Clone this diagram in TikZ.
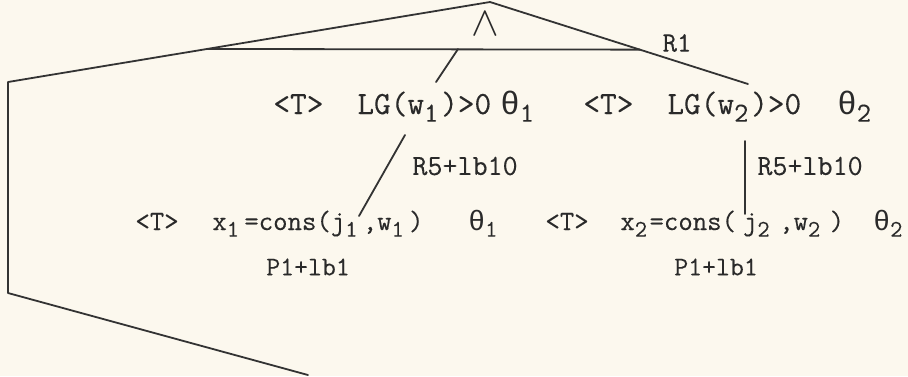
\documentclass[tikz,border=0pt]{standalone}
\usepackage{fontspec}
\usepackage{xcolor}
\usepackage{tikz}
\usetikzlibrary{positioning,calc}
\newfontfamily\grk{Liberation Mono}
\newfontfamily\tw{Latin Modern Mono}[FakeBold=0.25]
\definecolor{paper}{HTML}{FCF8EE}
\definecolor{ink}{HTML}{333333}
\definecolor{type}{HTML}{2A2A2A}
\tikzset{branch/.style={draw=ink,line width=0.9pt,line join=round,line cap=round},
  goal/.style={text=type,inner sep=0pt,anchor=base west,font=\tw\fontsize{#1}{#1}\selectfont},
  goal/.default=16.2,
  note/.style={text=type,inner sep=0pt,font=\tw\fontsize{#1}{#1}\selectfont},
  note/.default=14.6}
% lowered digit that takes one typewriter cell
\newcommand{\lo}[1]{\makebox[0.525em][l]{\raisebox{-0.55ex}{\scalebox{0.85}{#1}}}}
\newcommand{\thet}[1]{{\grk θ}\lo{#1}}
\begin{document}
\begin{tikzpicture}[x=0.5pt,y=-0.5pt]
  \fill[paper] (0,0) rectangle (908,376);
  \useasboundingbox (0,0) rectangle (908,376);
  % the and-node
  \node[text=type,inner sep=0pt,font=\fontsize{20.74}{20.74}\selectfont] (conj) at (485,24) {$\wedge$};
  \node[note=14] (r1) at (677,43) {R1};
  % first row of goals
  \node[goal] (t1) at (273,114) {<T>};
  \node[goal] (g1) at (357,114) {LG(w\lo{1})>0};
  \node[goal] (h1) at (500,114) {\thet{1}};
  \node[goal] (t2) at (583,114) {<T>};
  \node[goal] (g2) at (667,114) {LG(w\lo{2})>0};
  \node[goal] (h2) at (837,114) {\thet{2}};
  \node[note,anchor=west] (r5a) at (412,166) {R5+lb10};
  \node[note,anchor=west] (r5b) at (757,166) {R5+lb10};
  % second row of goals
  \node[goal=14] (t3) at (135,230) {<T>};
  \node[goal=14] (c1) at (212,230) {x\lo{1}\hspace{0.1em}=cons(j\lo{1}\hspace{0.1em},w\lo{1}\hspace{0.1em})};
  \node[goal=14] (h3) at (468,230) {\thet{1}};
  \node[goal=14] (t4) at (545,230) {<T>};
  \node[goal=14] (c2) at (620,230) {x\lo{2}=cons(\hspace{0.25em}j\lo{2}\hspace{0.25em},w\lo{2}\hspace{0.25em})};
  \node[goal=14] (h4) at (873,230) {\thet{2}};
  \node[note=13.5] (p1) at (308,267) {P1+lb1};
  \node[note=13.5] (p2) at (716,267) {P1+lb1};
  % the tree
  \coordinate (top) at (490,2);
  \coordinate (lcorner) at (8,82);
  \coordinate (lfoot) at (8,293);
  \coordinate (lend) at (308,375);
  \coordinate (rend) at (748,84);
  \coordinate (hl) at ($(top)!0.587!(lcorner)$);
  \coordinate (hr) at ($(top)!0.581!(rend)$);
  \coordinate (hm) at (458,49);
  \coordinate (g1top) at (436,82);
  \coordinate (g1bot) at (405,135);
  \coordinate (c1top) at (359,216);
  \coordinate (g2bot) at (745,141);
  \coordinate (c2top) at (745,214);
  \draw[branch] (rend) -- (top) -- (lcorner) -- (lfoot) -- (lend);
  \draw[branch] (hl) -- (hr);
  \draw[branch] (hm) -- (g1top);
  \draw[branch] (g1bot) -- (c1top);
  \draw[branch] (g2bot) -- (c2top);
\end{tikzpicture}
\end{document}
